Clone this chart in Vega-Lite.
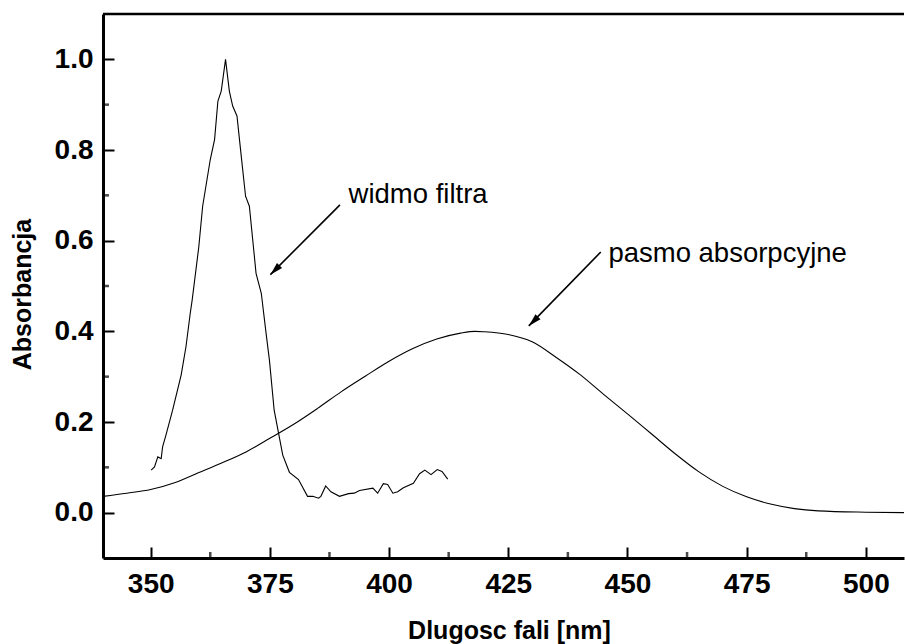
{
  "$schema": "https://vega.github.io/schema/vega-lite/v6.json",
  "width": 801,
  "height": 544,
  "autosize": {"type": "none"},
  "padding": {"left": 103, "top": 14, "right": 1, "bottom": 86},
  "background": "white",
  "config": {"view": {"stroke": null}, "font": "Liberation Sans"},
  "datasets": {
    "band": [
      {"wavelength": 340, "absorbance": 0.036},
      {"wavelength": 345, "absorbance": 0.043},
      {"wavelength": 350, "absorbance": 0.051},
      {"wavelength": 355, "absorbance": 0.066},
      {"wavelength": 360, "absorbance": 0.088},
      {"wavelength": 365, "absorbance": 0.11},
      {"wavelength": 370, "absorbance": 0.134},
      {"wavelength": 375, "absorbance": 0.164},
      {"wavelength": 380, "absorbance": 0.195},
      {"wavelength": 385, "absorbance": 0.23},
      {"wavelength": 390, "absorbance": 0.267},
      {"wavelength": 395, "absorbance": 0.301},
      {"wavelength": 400, "absorbance": 0.334},
      {"wavelength": 405, "absorbance": 0.362},
      {"wavelength": 410, "absorbance": 0.383},
      {"wavelength": 415, "absorbance": 0.396},
      {"wavelength": 418, "absorbance": 0.4},
      {"wavelength": 420, "absorbance": 0.399},
      {"wavelength": 425, "absorbance": 0.393},
      {"wavelength": 430, "absorbance": 0.377},
      {"wavelength": 435, "absorbance": 0.343},
      {"wavelength": 440, "absorbance": 0.305},
      {"wavelength": 445, "absorbance": 0.261},
      {"wavelength": 450, "absorbance": 0.218},
      {"wavelength": 455, "absorbance": 0.174},
      {"wavelength": 460, "absorbance": 0.13},
      {"wavelength": 465, "absorbance": 0.09},
      {"wavelength": 470, "absorbance": 0.058},
      {"wavelength": 475, "absorbance": 0.035},
      {"wavelength": 480, "absorbance": 0.019},
      {"wavelength": 485, "absorbance": 0.009},
      {"wavelength": 490, "absorbance": 0.004},
      {"wavelength": 500, "absorbance": 0.001},
      {"wavelength": 508, "absorbance": 0.0}
    ],
    "filterspectrum": [
      {"wavelength": 350.1, "absorbance": 0.094},
      {"wavelength": 350.8, "absorbance": 0.101},
      {"wavelength": 351.5, "absorbance": 0.123},
      {"wavelength": 352.2, "absorbance": 0.119},
      {"wavelength": 352.5, "absorbance": 0.145},
      {"wavelength": 353.2, "absorbance": 0.171},
      {"wavelength": 354.6, "absorbance": 0.226},
      {"wavelength": 356.4, "absorbance": 0.304},
      {"wavelength": 357.4, "absorbance": 0.366},
      {"wavelength": 358.3, "absorbance": 0.44},
      {"wavelength": 358.7, "absorbance": 0.469},
      {"wavelength": 360.1, "absorbance": 0.587},
      {"wavelength": 360.9, "absorbance": 0.676},
      {"wavelength": 362.5, "absorbance": 0.779},
      {"wavelength": 363.4, "absorbance": 0.823},
      {"wavelength": 364.1, "absorbance": 0.908},
      {"wavelength": 364.8, "absorbance": 0.93},
      {"wavelength": 365.7, "absorbance": 1.0},
      {"wavelength": 366.5, "absorbance": 0.93},
      {"wavelength": 367.2, "absorbance": 0.897},
      {"wavelength": 368.1, "absorbance": 0.875},
      {"wavelength": 369.0, "absorbance": 0.786},
      {"wavelength": 369.9, "absorbance": 0.698},
      {"wavelength": 370.7, "absorbance": 0.676},
      {"wavelength": 371.4, "absorbance": 0.602},
      {"wavelength": 372.1, "absorbance": 0.528},
      {"wavelength": 373.2, "absorbance": 0.484},
      {"wavelength": 374.2, "absorbance": 0.396},
      {"wavelength": 374.9, "absorbance": 0.337},
      {"wavelength": 375.9, "absorbance": 0.226},
      {"wavelength": 376.9, "absorbance": 0.171},
      {"wavelength": 377.7, "absorbance": 0.127},
      {"wavelength": 379.1, "absorbance": 0.089},
      {"wavelength": 381.0, "absorbance": 0.073},
      {"wavelength": 382.9, "absorbance": 0.036},
      {"wavelength": 384.0, "absorbance": 0.036},
      {"wavelength": 385.2, "absorbance": 0.032},
      {"wavelength": 385.7, "absorbance": 0.036},
      {"wavelength": 386.7, "absorbance": 0.059},
      {"wavelength": 387.8, "absorbance": 0.046},
      {"wavelength": 389.6, "absorbance": 0.036},
      {"wavelength": 391.5, "absorbance": 0.042},
      {"wavelength": 392.7, "absorbance": 0.043},
      {"wavelength": 393.8, "absorbance": 0.049},
      {"wavelength": 396.6, "absorbance": 0.054},
      {"wavelength": 397.6, "absorbance": 0.043},
      {"wavelength": 398.8, "absorbance": 0.064},
      {"wavelength": 399.7, "absorbance": 0.062},
      {"wavelength": 400.8, "absorbance": 0.043},
      {"wavelength": 401.8, "absorbance": 0.046},
      {"wavelength": 403.0, "absorbance": 0.055},
      {"wavelength": 405.1, "absorbance": 0.065},
      {"wavelength": 406.4, "absorbance": 0.086},
      {"wavelength": 407.5, "absorbance": 0.094},
      {"wavelength": 408.8, "absorbance": 0.084},
      {"wavelength": 410.1, "absorbance": 0.095},
      {"wavelength": 411.1, "absorbance": 0.091},
      {"wavelength": 412.3, "absorbance": 0.074}
    ],
    "arrows": [
      {"wavelength": 389.7, "absorbance": 0.679, "wavelength2": 375.1, "absorbance2": 0.525},
      {"wavelength": 444.4, "absorbance": 0.575, "wavelength2": 429.3, "absorbance2": 0.412}
    ],
    "tips": [
      {"wavelength": 375.1, "absorbance": 0.525},
      {"wavelength": 429.3, "absorbance": 0.412}
    ],
    "notes": [
      {"wavelength": 391.5, "absorbance": 0.684, "label": "widmo filtra"},
      {"wavelength": 446.0, "absorbance": 0.553, "label": "pasmo absorpcyjne"}
    ]
  },
  "layer": [
    {
      "data": {"name": "band"},
      "mark": {"type": "line", "color": "black", "strokeWidth": 1.1, "interpolate": "monotone"},
      "encoding": {
        "x": {
          "field": "wavelength", "type": "quantitative", "title": "Dlugosc fali [nm]",
          "scale": {"domain": [340, 508], "nice": false, "zero": false},
          "axis": {
            "values": [350, 375, 400, 425, 450, 475, 500],
            "tickSize": -11, "tickWidth": 2, "tickColor": "black", "tickOpacity": 1,
            "domainWidth": 3, "domainColor": "black",
            "grid": false,
            "labelFont": "Liberation Sans", "labelFontWeight": "bold", "labelFontSize": 28, "labelColor": "black",
            "labelPadding": 23, "labelFlush": false, "labelOverlap": false,
            "titleFont": "Liberation Sans", "titleFontWeight": "bold", "titleFontSize": 25, "titleColor": "black",
            "titleX": 406, "titleY": 80, "titleBaseline": "alphabetic", "titleAlign": "center", "titleAnchor": "start"
          }
        },
        "y": {
          "field": "absorbance", "type": "quantitative", "title": "Absorbancja",
          "scale": {"domain": [-0.1, 1.1], "nice": false, "zero": false},
          "axis": {
            "values": [0, 0.2, 0.4, 0.6, 0.8, 1.0],
            "format": ".1f",
            "tickSize": -11, "tickWidth": 2, "tickColor": "black", "tickOpacity": 1,
            "domainWidth": 3, "domainColor": "black",
            "grid": false,
            "labelFont": "Liberation Sans", "labelFontWeight": "bold", "labelFontSize": 28, "labelColor": "black",
            "labelPadding": 21, "labelFlush": false, "labelOverlap": false,
            "titleFont": "Liberation Sans", "titleFontWeight": "bold", "titleFontSize": 25, "titleColor": "black",
            "titleAngle": -90, "titleX": -73, "titleY": 280, "titleBaseline": "alphabetic", "titleAlign": "center", "titleAnchor": "start"
          }
        }
      }
    },
    {
      "data": {"values": [{"wavelength": 362.5}, {"wavelength": 387.5}, {"wavelength": 412.5}, {"wavelength": 437.5}, {"wavelength": 462.5}, {"wavelength": 487.5}]},
      "mark": {"type": "point", "shape": "M0,0L0,-2", "filled": false, "stroke": "black", "strokeWidth": 2.5, "size": 36},
      "encoding": {
        "x": {"field": "wavelength", "type": "quantitative"},
        "y": {"datum": -0.1, "type": "quantitative"}
      }
    },
    {
      "data": {"values": [{"absorbance": 0.1}, {"absorbance": 0.3}, {"absorbance": 0.5}, {"absorbance": 0.7}, {"absorbance": 0.9}]},
      "mark": {"type": "point", "shape": "M0,0L2,0", "filled": false, "stroke": "black", "strokeWidth": 2.5, "size": 36},
      "encoding": {
        "y": {"field": "absorbance", "type": "quantitative"},
        "x": {"datum": 340, "type": "quantitative"}
      }
    },
    {
      "data": {"name": "filterspectrum"},
      "mark": {"type": "line", "color": "black", "strokeWidth": 1.1},
      "encoding": {
        "x": {"field": "wavelength", "type": "quantitative"},
        "y": {"field": "absorbance", "type": "quantitative"}
      }
    },
    {
      "data": {"name": "arrows"},
      "mark": {"type": "rule", "color": "black", "strokeWidth": 1.6},
      "encoding": {
        "x": {"field": "wavelength", "type": "quantitative"},
        "y": {"field": "absorbance", "type": "quantitative"},
        "x2": {"field": "wavelength2"},
        "y2": {"field": "absorbance2"}
      }
    },
    {
      "data": {"name": "tips"},
      "mark": {"type": "point", "shape": "M0,0L0.55,2L-0.55,2Z", "filled": true, "color": "black", "opacity": 1, "size": 169, "strokeWidth": 0, "angle": 225},
      "encoding": {
        "x": {"field": "wavelength", "type": "quantitative"},
        "y": {"field": "absorbance", "type": "quantitative"}
      }
    },
    {
      "data": {"name": "notes"},
      "mark": {"type": "text", "align": "left", "baseline": "alphabetic", "font": "Liberation Sans", "fontSize": 27.5, "color": "black"},
      "encoding": {
        "x": {"field": "wavelength", "type": "quantitative"},
        "y": {"field": "absorbance", "type": "quantitative"},
        "text": {"field": "label"}
      }
    },
    {
      "data": {"values": [{}]},
      "mark": {"type": "rule", "color": "black", "strokeWidth": 2.5},
      "encoding": {
        "y": {"datum": 1.1, "type": "quantitative"}
      }
    }
  ]
}
